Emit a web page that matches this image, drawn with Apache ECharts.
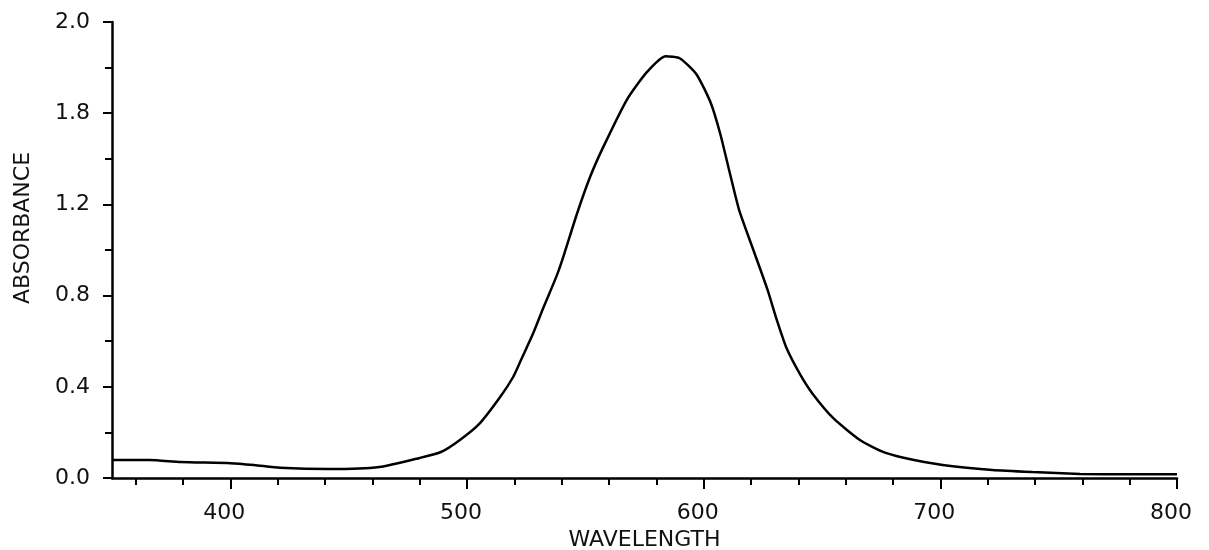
<!DOCTYPE html>
<html>
<head>
<meta charset="utf-8">
<style>
  html, body { margin: 0; padding: 0; background: #fff; }
  #chart { width: 1209px; height: 550px; }
</style>
<script src="https://cdn.jsdelivr.net/npm/echarts@6/dist/echarts.min.js"></script>
</head>
<body>
<div id="chart"></div>
<script>
// Data
const wavelength = [350, 366, 379, 400, 410, 421, 442, 463, 480, 489, 497, 505.5, 514, 519.5, 522.5, 528, 532, 538, 541, 546.5, 552, 557.5, 567.6, 576, 584, 590, 597, 603, 607, 611, 615, 621, 627, 631, 635, 641, 646, 655, 666, 675, 684, 701, 722, 739, 759, 780, 800];
const absorbance = [0.079, 0.079, 0.070, 0.065, 0.057, 0.045, 0.039, 0.048, 0.088, 0.114, 0.167, 0.241, 0.355, 0.443, 0.51, 0.636, 0.74, 0.89, 0.98, 1.16, 1.32, 1.45, 1.66, 1.78, 1.85, 1.84, 1.77, 1.645, 1.51, 1.34, 1.175, 1.0, 0.825, 0.69, 0.57, 0.45, 0.37, 0.26, 0.167, 0.118, 0.09, 0.057, 0.035, 0.026, 0.018, 0.016, 0.016];

const xMajorTicks = [400, 500, 600, 700, 800];
const xMinorTicks = [360, 380, 400, 420, 440, 460, 480, 500, 520, 540, 560, 580, 600, 620, 640, 660, 680, 700, 720, 740, 760, 780, 800];
const yTickLabels = ['0.0', '0.4', '0.8', '1.2', '1.8', '2.0'];

const xName = 'WAVELENGTH';
const yName = 'ABSORBANCE';

const seriesData = wavelength.map((w, i) => [w, absorbance[i]]);

const font = 'DejaVu Sans';
const chart = echarts.init(document.getElementById('chart'), null, { renderer: 'canvas' });

chart.setOption({
  animation: false,
  backgroundColor: '#ffffff',
  grid: { left: 112, right: 32, top: 22, bottom: 72, containLabel: false, outerBoundsMode: 'none' },
  xAxis: [
    {
      type: 'value',
      min: 350,
      max: 800,
      position: 'bottom',
      name: xName,
      nameLocation: 'middle',
      nameGap: 47,
      nameTextStyle: { fontFamily: font, fontSize: 22, color: '#111' },
      axisLine: { show: true, lineStyle: { color: '#000', width: 2.5 } },
      axisTick: { show: true, customValues: xMinorTicks, length: 7, lineStyle: { color: '#000', width: 2 } },
      axisLabel: {
        show: true,
        customValues: xMajorTicks,
        margin: 24,
        fontFamily: font,
        fontSize: 22,
        color: '#111',
        padding: [0, 12, 0, 0]
      },
      splitLine: { show: false }
    },
    {
      type: 'value',
      min: 350,
      max: 800,
      position: 'bottom',
      axisLine: { show: false },
      axisTick: { show: true, customValues: xMajorTicks, length: 11, lineStyle: { color: '#000', width: 2 } },
      axisLabel: { show: false },
      splitLine: { show: false }
    }
  ],
  yAxis: {
    type: 'value',
    min: 0,
    max: 2.0,
    interval: 0.4,
    name: yName,
    nameLocation: 'middle',
    nameGap: 78,
    nameTextStyle: { fontFamily: font, fontSize: 22, color: '#111', padding: [0, 0, 0, 44] },
    axisLine: { show: true, lineStyle: { color: '#000', width: 2.5 } },
    axisTick: { show: true, length: 9, lineStyle: { color: '#000', width: 2 } },
    minorTick: { show: true, splitNumber: 2, length: 7, lineStyle: { color: '#000', width: 2 } },
    axisLabel: {
      margin: 22,
      fontFamily: font,
      fontSize: 22,
      color: '#111',
      formatter: function (v) {
        const idx = Math.round(v / 0.4);
        return yTickLabels[idx] !== undefined ? yTickLabels[idx] : '';
      }
    },
    splitLine: { show: false }
  },
  series: [
    {
      type: 'line',
      xAxisIndex: 0,
      data: seriesData,
      showSymbol: false,
      smooth: 0.2,
      lineStyle: { color: '#000', width: 2.5 }
    }
  ]
});
</script>
</body>
</html>
